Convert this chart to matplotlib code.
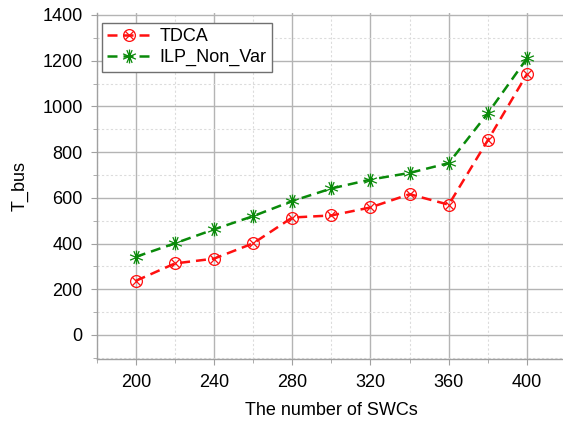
import matplotlib
matplotlib.use("Agg")
import matplotlib.pyplot as plt
from matplotlib.path import Path
from matplotlib.ticker import MultipleLocator
import numpy as np

# data
swcs = [200, 220, 240, 260, 280, 300, 320, 340, 360, 380, 400]
tdca = [237, 313, 334, 401, 514, 523, 558, 616, 570, 852, 1141]
ilp_non_var = [342, 401, 462, 520, 586, 641, 680, 709, 752, 970, 1210]

plt.rcParams['font.family'] = ['Liberation Sans', 'DejaVu Sans']

# circle with an X inside (open marker)
cross = Path([(-0.7, -0.7), (0.7, 0.7), (-0.7, 0.7), (0.7, -0.7)],
             [Path.MOVETO, Path.LINETO, Path.MOVETO, Path.LINETO])
circ_x = Path.make_compound_path(Path.unit_circle(), cross)

# star-like asterisk marker
ang = np.deg2rad(np.arange(0, 360, 45) + 22.5)
verts, codes = [], []
for a in ang:
    verts += [(0, 0), (np.cos(a), np.sin(a))]
    codes += [Path.MOVETO, Path.LINETO]
verts += [(0, -1), (0, 1)]
codes += [Path.MOVETO, Path.LINETO]
star = Path(verts, codes)

fig = plt.figure(figsize=(5.63, 4.23), dpi=100)
ax = fig.add_axes([0.1718, 0.1513, 0.8336, 0.8187])

ax.plot(swcs, ilp_non_var, color='#0a8a0a', linestyle=(0, (4, 2.4)), linewidth=1.8,
        marker=star, markersize=10, markeredgewidth=0.9, fillstyle='none',
        label='ILP_Non_Var', zorder=3)
ax.plot(swcs, tdca, color='#ff1010', linestyle=(0, (4, 2.4)), linewidth=1.8,
        marker=circ_x, markersize=8.5, markeredgewidth=0.9, fillstyle='none',
        label='TDCA', zorder=4)

ax.set_xlim(180, 420)
ax.set_ylim(-105, 1410)
ax.xaxis.set_major_locator(MultipleLocator(40))
ax.xaxis.set_minor_locator(MultipleLocator(20))
ax.yaxis.set_major_locator(MultipleLocator(200))
ax.yaxis.set_minor_locator(MultipleLocator(100))

ax.grid(True, which='major', color='#b4b4b4', linewidth=1.0)
ax.grid(True, which='minor', color='#dcdcdc', linewidth=0.8, linestyle=(0, (2, 2)))
ax.set_axisbelow(True)

for side in ['top', 'right']:
    ax.spines[side].set_visible(False)
for side in ['left', 'bottom']:
    ax.spines[side].set_color('#a0a0a0')
    ax.spines[side].set_linewidth(1.0)

ax.tick_params(which='both', direction='out', colors='#a0a0a0', labelcolor='black',
               labelsize=13)
ax.tick_params(which='major', length=4)
ax.tick_params(which='minor', length=3)
ax.tick_params(axis='x', pad=7)
ax.tick_params(axis='y', pad=6)

ax.set_xlabel('The number of SWCs', fontsize=13, labelpad=8)
ax.set_ylabel('T_bus', fontsize=13, labelpad=10)

handles, labels = ax.get_legend_handles_labels()
leg = ax.legend(handles[::-1], labels[::-1], loc='upper left',
                bbox_to_anchor=(0.011, 0.970), fontsize=13, fancybox=False,
                framealpha=1, edgecolor='#707070', handlelength=2.4,
                borderpad=0.3, labelspacing=0.2, handletextpad=0.5,
                borderaxespad=0.0)
leg.get_frame().set_linewidth(1.0)

fig.savefig('out.png', dpi=100)
